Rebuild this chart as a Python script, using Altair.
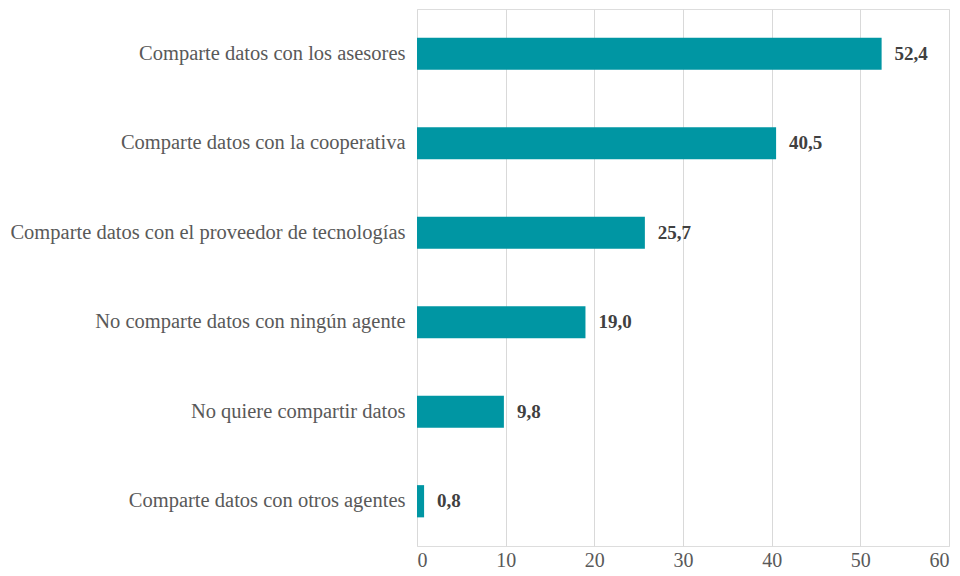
import altair as alt
import pandas as pd

categories = [
    "Comparte datos con los asesores",
    "Comparte datos con la cooperativa",
    "Comparte datos con el proveedor de tecnologías",
    "No comparte datos con ningún agente",
    "No quiere compartir datos",
    "Comparte datos con otros agentes",
]
values = [52.4, 40.5, 25.7, 19.0, 9.8, 0.8]
x_ticks = [0, 10, 20, 30, 40, 50, 60]

df = pd.DataFrame({
    "cat": categories,
    "val": values,
    "lab": [f"{v:.1f}".replace(".", ",") for v in values],
})

FONT = "Liberation Serif"

base = alt.Chart(df).encode(
    y=alt.Y("cat:N", sort=categories, title=None,
            scale=alt.Scale(paddingInner=0.64, paddingOuter=0.32),
            axis=alt.Axis(domain=False, ticks=False, grid=False, labelPadding=12,
                          labelFont=FONT, labelFontSize=20.5, labelColor="#595959",
                          labelLimit=500)),
)

bars = base.mark_bar(color="#0096A3").encode(
    x=alt.X("val:Q", title=None,
            scale=alt.Scale(domain=[0, 60], nice=False),
            axis=alt.Axis(values=x_ticks, domain=False, ticks=False, grid=True,
                          gridColor="#d9d9d9", gridWidth=1, labelPadding=4,
                          labelFont=FONT, labelFontSize=20, labelColor="#595959")),
)

text = base.mark_text(align="left", baseline="middle", dx=13, font=FONT,
                      fontSize=19, fontWeight="bold", color="#404040").encode(
    x="val:Q",
    text="lab:N",
)

chart = (bars + text).properties(
    width=532, height=537,
    autosize=alt.AutoSizeParams(type="none"),
    padding={"left": 409, "top": 1, "right": 3, "bottom": 27},
).configure_view(stroke="transparent", strokeWidth=0).configure(background="white")

chart.save("out.html", embed_options={"renderer": "svg", "actions": False})
